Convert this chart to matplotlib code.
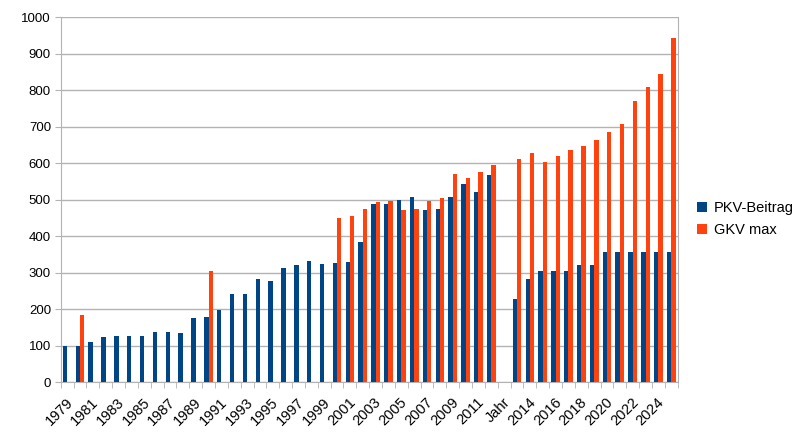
import numpy as np
import matplotlib
matplotlib.use("Agg")
import matplotlib.pyplot as plt
import matplotlib.transforms as mtransforms

nan = np.nan
categories = [str(y) for y in range(1979, 2013)] + ["Jahr"] + [str(y) for y in range(2013, 2026)]

pkv = [99, 99, 110, 124, 126, 126, 127, 137, 137, 135, 175, 179, 197, 242, 242, 283, 277,
       312, 321, 332, 324, 327, 330, 384, 489, 488, 500, 508, 472, 475, 508, 543, 521, 568,
       nan,
       227, 284, 306, 306, 306, 320, 320, 356, 356, 356, 356, 356, 356]
gkv = [nan, 185, nan, nan, nan, nan, nan, nan, nan, nan, nan, 304, nan, nan, nan, nan, nan,
       nan, nan, nan, nan, 450, 456, 474, 494, 497, 471, 475, 497, 505, 571, 560, 576, 595,
       nan,
       611, 629, 603, 619, 635, 646, 663, 685, 706, 769, 808, 843, 942]

plt.rcParams['font.family'] = ['Liberation Sans', 'DejaVu Sans']

fig = plt.figure(figsize=(8.09, 4.36), dpi=100)
ax = fig.add_axes([60.7/809, (436-382.3)/436, (677.7-60.7)/809, (382.3-17)/436])

x = np.arange(len(categories))
w = 0.34
ax.bar(x - w/2, pkv, width=w, color='#004586', label='PKV-Beitrag', zorder=3)
ax.bar(x + w/2, gkv, width=w, color='#ff420e', label='GKV max', zorder=3)

ax.set_xlim(-0.5, len(categories) - 0.5)
ax.set_ylim(0, 1000)
ax.set_yticks(range(0, 1001, 100))
ax.yaxis.grid(True, color='#b3b3b3', linewidth=1, zorder=0)
ax.tick_params(axis='y', length=4, color='#b3b3b3', labelsize=9.5, pad=3, labelcolor='black')

ax.set_xticks(x[::2])
ax.set_xticklabels(categories[::2], rotation=45, ha='right', rotation_mode='anchor', fontsize=10.5)
ax.tick_params(axis='x', which='major', length=0, pad=9)
ax.set_xticks(np.arange(-0.5, len(categories), 1), minor=True)
ax.tick_params(axis='x', which='minor', length=4, color='#b3b3b3')
offset = mtransforms.ScaledTranslation(-1.5/100, 0, fig.dpi_scale_trans)
for lab in ax.get_xticklabels():
    lab.set_transform(lab.get_transform() + offset)

for s in ['left', 'right', 'bottom']:
    ax.spines[s].set_color('#b3b3b3')
ax.spines['top'].set_visible(False)

handles, labels = ax.get_legend_handles_labels()
leg = fig.legend(handles, labels, loc='center left', bbox_to_anchor=(684/809, 1 - 219/436),
                 frameon=False, fontsize=10.5, handlelength=0.65, handleheight=0.65,
                 handletextpad=0.5, labelspacing=0.55)

fig.savefig('out.png', dpi=100)
